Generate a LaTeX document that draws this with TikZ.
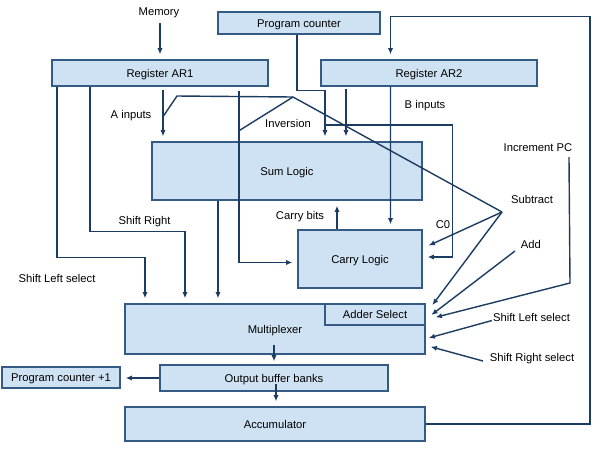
\documentclass[tikz,border=0pt]{standalone}
\usepackage{fontspec}
\setmainfont{Liberation Sans}
\usetikzlibrary{arrows.meta, calc}
\definecolor{boxfill}{RGB}{207,226,243}
\definecolor{boxline}{RGB}{52,90,134}
\definecolor{wireblue}{RGB}{28,60,98}

\begin{document}
\begin{tikzpicture}[x=0.02cm, y=-0.02cm, font=\fontsize{6.4}{7.7}\selectfont]
	\tikzstyle{block} = [rectangle, draw=boxline, fill=boxfill, line width=0.8pt, inner sep=0pt, text height=4.6pt, text depth=0pt, text centered]
	\tikzstyle{tag} = [inner sep=0pt, text height=4.6pt, text depth=0pt, text centered]
	\tikzstyle{wire} = [line width=0.8pt, draw=wireblue]
	\tikzstyle{arrow} = [wire, ->, >={Latex[length=3.6pt,width=3pt]}, shorten >=2.8pt]
	
	\useasboundingbox (0,0) rectangle (600,451);
	
	\node (pc) [block, minimum width=3.24cm, minimum height=0.44cm] at (299,23) {Program counter};
	\node (ar1) [block, minimum width=4.32cm, minimum height=0.52cm] at (160,73) {Register AR1};
	\node (ar2) [block, minimum width=4.32cm, minimum height=0.52cm] at (429,73) {Register AR2};
	\node (sum) [block, minimum width=5.4cm, minimum height=1.16cm] at (287,171) {Sum Logic};
	\node (carry) [block, minimum width=2.48cm, minimum height=1.16cm] at (360,259) {Carry Logic};
	\node (mux) [block, minimum width=6cm, minimum height=1cm] at (275,329) {Multiplexer};
	\node (adsel) [block, minimum width=2cm, minimum height=0.42cm] at (375,314.5) {Adder Select};
	\node (buf) [block, minimum width=4.56cm, minimum height=0.52cm] at (274,378) {Output buffer banks};
	\node (pc1) [block, minimum width=2.36cm, minimum height=0.42cm] at (61,377.5) {Program counter +1};
	\node (acc) [block, minimum width=6cm, minimum height=0.68cm] at (275,424) {Accumulator};
	
	\node (mem) [tag] at (159,11) {Memory};
	\node (ain) [tag] at (131,114) {A inputs};
	\node (invlab) [tag] at (288,123.5) {Inversion};
	\node (bin) [tag] at (425,104) {B inputs};
	\node (inc) [tag] at (538,147) {Increment PC};
	\node (sub) [tag] at (532,199) {Subtract};
	\node (czero) [tag] at (443,224) {C0};
	\node (add) [tag] at (531,244) {Add};
	\node (cbits) [tag] at (300,215) {Carry bits};
	\node (shr) [tag] at (144.5,220) {Shift Right};
	\node (shl) [tag] at (57,278) {Shift Left select};
	\node (shlsel) [tag] at (531.5,317) {Shift Left select};
	\node (shrsel) [tag] at (532,357.5) {Shift Right select};
	
	\coordinate (cin) at (325,125);
	\coordinate (hub) at (502,212);
	\coordinate (inv) at (293,97);
	\coordinate (addend) at (515,251);
	\coordinate (incend) at (569,157);
	\coordinate (slsend) at (492,320.5);
	\coordinate (srsend) at (483,361);
	
	% register and counter inputs
	\draw [arrow] ($(mem.south)+(1,8)$) -- (ar1.north);
	\draw [arrow] ($(pc.south)+(-2,0)$) |- ($(sum.north)+(38,-51)$) -- ($(sum.north)+(38,0)$);
	\draw [arrow] ($(ar2.south)+(-83,2)$) -- ($(sum.north)+(59,0)$);
	\draw [arrow] ($(ar2.south)+(-38.5,0)$) -- ($(carry.north)+(30.5,0)$);
	\draw [arrow] ($(ar1.south)+(3,3)$) -- ($(sum.north)+(-124,0)$);
	\draw [arrow] ($(ar1.south)+(-103,0)$) |- ($(mux.north)+(-130,-46)$) -- ($(mux.north)+(-130,0)$);
	\draw [arrow] ($(ar1.south)+(-70,0)$) |- ($(mux.north)+(-90,-72)$) -- ($(mux.north)+(-90,0)$);
	\draw [arrow] ($(ar1.south)+(79,4)$) |- ($(carry.west)+(0,3.5)$);
	\draw [arrow] ($(sum.south)+(-69,0)$) -- ($(mux.north)+(-57,0)$);
	\draw [arrow] ($(carry.north)+(-23,0)$) -- ($(sum.south)+(50,0)$);
	\draw [arrow] (cin) -| ($(carry.east)+(30,-2)$) -- ($(carry.east)+(0,-2)$);
	
	% control lines
	\draw [wire] (hub) -- (inv) -- (177,96) -- ($(ar1.south)+(3,30)$);
	\draw [wire] (inv) -- ($(ar1.south)+(79,44)$);
	\draw [arrow] (hub) -- ($(carry.east)+(1.5,-11.4)$);
	\draw [arrow] (hub) -- ($(adsel.east)+(3.7,-5.5)$);
	\draw [arrow] (addend) -- ($(adsel.east)+(1.7,3.5)$);
	\draw [arrow] (incend) -- (570,283) -- ($(adsel.east)+(5.2,4)$);
	\draw [arrow] (slsend) -- ($(mux.east)+(-1.8,10.3)$);
	\draw [arrow] (srsend) -- ($(mux.east)+(0.2,16.4)$);
	
	% outputs
	\draw [arrow] ($(mux.south)+(-1,-10)$) -- ($(buf.north)+(0,2)$);
	\draw [arrow] ($(buf.south)+(2,-8)$) -- ($(acc.north)+(1,0)$);
	\draw [arrow] (buf.west) -- (pc1.east |- buf.west);
	\draw [arrow] (acc.east) -| ($(ar2.north)+(161,-43)$) -| ($(ar2.north)+(-38.5,0)$);
\end{tikzpicture}
\end{document}
